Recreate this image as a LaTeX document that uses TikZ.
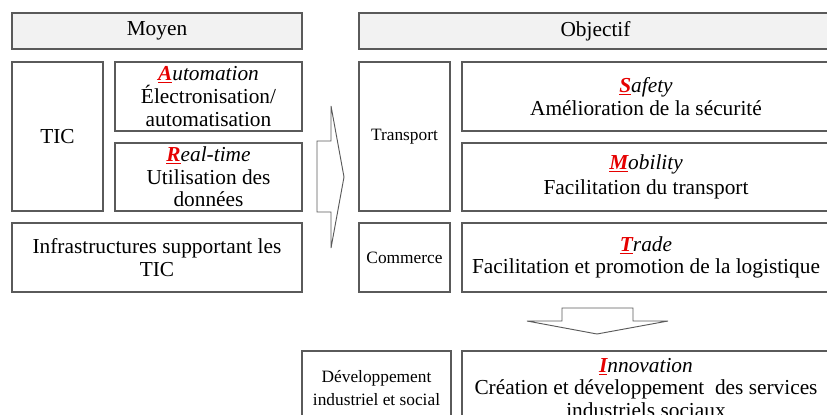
\documentclass[tikz,border=0pt]{standalone}
\usepackage{fontspec}
\setmainfont{Liberation Serif}
\definecolor{edge}{RGB}{90,90,90}
\definecolor{headfill}{RGB}{242,242,242}
\definecolor{keyred}{RGB}{230,0,0}
% initial letter of each keyword: red, bold italic, underlined
\newcommand\keyletter[1]{\textcolor{keyred}{\underline{\textbf{#1}}}}
\newcommand\kw[2]{{\itshape\keyletter{#1}#2}}
\begin{document}
\begin{tikzpicture}[x=0.75pt,y=-0.75pt,
  box/.style={draw=edge,line width=0.9pt,fill=white,inner sep=0pt,
    align=center,font=\fontsize{16}{17}\selectfont},
  header/.style={box,fill=headfill},
  smallbox/.style={box,font=\fontsize{13}{17}\selectfont},
  wd/.style={minimum width=#1*0.75pt},
  ht/.style={minimum height=#1*0.75pt},
  bigarrow/.style={draw=edge,line width=0.7pt,fill=white,line join=miter}]
\useasboundingbox (0,0) rectangle (827,414);
\clip (0,0) rectangle (827,414);

% column headers
\node[header,wd=290,ht=36] (moyen) at (157,31) {Moyen};
\node[header,wd=473,ht=36] (objectif) at (595.5,31) {Objectif};

% means
\node[box,wd=91,ht=149] (tic) at (57.5,136.5) {TIC};
\node[box,wd=187,ht=69] (auto) at (208.5,96.5)
  {\kw{A}{utomation}\\Électronisation/\\automatisation};
\node[box,wd=187,ht=68] (real) at (208.5,177)
  {\kw{R}{eal-time}\\Utilisation des\\données};
\node[box,wd=290,ht=69] (infra) at (157,257.5)
  {Infrastructures supportant les\\TIC};

% objectives
\node[smallbox,wd=91,ht=149] (transport) at (404.5,136.5) {Transport};
\node[box,wd=368,ht=69] (safety) at (646,96.5)
  {\kw{S}{afety}\\Amélioration de la sécurité};
\node[box,wd=368,ht=68] (mobility) at (646,177)
  {\kw{M}{obility}\\[2pt]Facilitation du transport};
\node[smallbox,wd=91,ht=69] (commerce) at (404.5,257.5) {Commerce};
\node[box,wd=368,ht=69] (trade) at (646,257.5)
  {\kw{T}{rade}\\Facilitation et promotion de la logistique};

% outcome
\node[smallbox,wd=149,ht=74] (devel) at (376.5,388)
  {Développement\\industriel et social};
\node[box,wd=368,ht=74] (innov) at (646,388)
  {\kw{I}{nnovation}\\Création et développement~ des services\\industriels sociaux};

% block arrows
\draw[bigarrow] (317,141) -- (331,141) -- (331,106) -- (344,177)
  -- (331,248) -- (331,212) -- (317,212) -- cycle;
\draw[bigarrow] (562,308) -- (633,308) -- (633,321) -- (668,321)
  -- (597,334) -- (527,321) -- (562,321) -- cycle;
\end{tikzpicture}
\end{document}
